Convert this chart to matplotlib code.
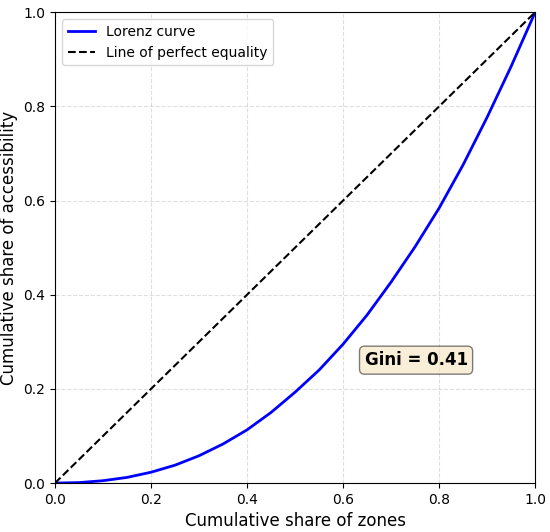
import matplotlib.pyplot as plt
import numpy as np

# Lorenz curve values
zone_share = [0.0, 0.05, 0.1, 0.15, 0.2, 0.25, 0.3, 0.35, 0.4, 0.45, 0.5,
              0.55, 0.6, 0.65, 0.7, 0.75, 0.8, 0.85, 0.9, 0.95, 1.0]
access_share = [0.0, 0.001, 0.005, 0.012, 0.023, 0.038, 0.058, 0.083, 0.113,
                0.15, 0.193, 0.24, 0.295, 0.357, 0.427, 0.502, 0.584, 0.676,
                0.777, 0.885, 1.0]
equality = [0.0, 1.0]
gini = 0.41

fig, ax = plt.subplots(figsize=(5.5, 5.32), dpi=100)

ax.plot(zone_share, access_share, color="blue", linewidth=2, label="Lorenz curve")
ax.plot(equality, equality, color="black", linestyle="--", linewidth=1.5,
        label="Line of perfect equality")

ax.text(0.752, 0.261, f"Gini = {gini:.2f}", ha="center", va="center",
        fontsize=12, fontweight="bold",
        bbox=dict(boxstyle="round", facecolor="wheat", alpha=0.5))

ax.set_xlim(0, 1)
ax.set_ylim(0, 1)
ax.set_xlabel("Cumulative share of zones", fontsize=12)
ax.set_ylabel("Cumulative share of accessibility", fontsize=12)
ax.grid(True, linestyle="--", alpha=0.4)
ax.legend(loc="upper left")

plt.subplots_adjust(left=0.1, right=0.973, top=0.977, bottom=0.092)
plt.savefig("out.png")
